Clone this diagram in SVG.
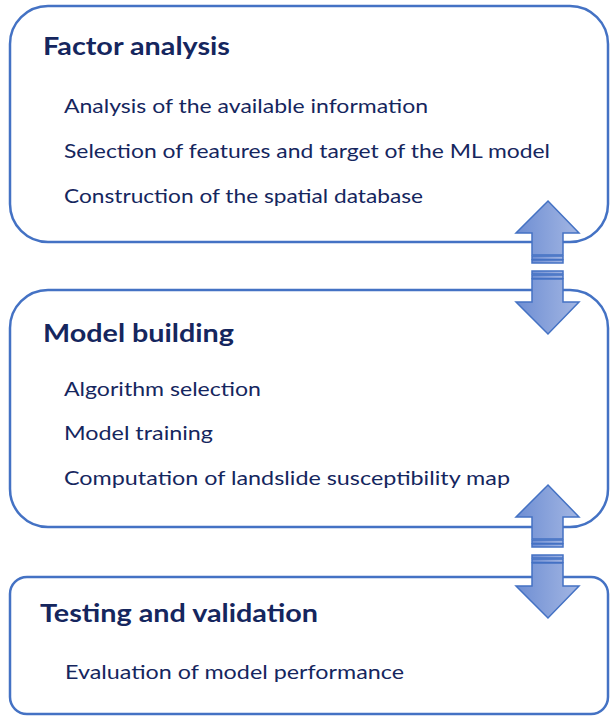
<svg xmlns="http://www.w3.org/2000/svg" width="610" height="716" viewBox="0 0 610 716">
<style>
.box{fill:#ffffff;stroke:#4472c4;stroke-width:2.5}
.h{font-family:Lato,"Liberation Sans",sans-serif;font-weight:bold;font-size:25px;fill:#15265e}
.t{font-family:Lato,"Liberation Sans",sans-serif;font-size:19px;fill:#15265e}
.arr{fill:url(#g);stroke:#4472c4;stroke-width:1.5;stroke-linejoin:miter}
</style>
<defs>
<linearGradient id="g" x1="0" y1="0" x2="1" y2="0">
<stop offset="0" stop-color="#6e8ed3"/>
<stop offset="1" stop-color="#a3b6e3"/>
</linearGradient>
<g id="dbl">
<path class="arr" d="M548,201 L579,233 L563,233 L563,255 L532,255 L532,233 L516,233 Z"/>
<rect class="arr" x="532" y="256" width="31" height="3.5"/>
<rect class="arr" x="532" y="260" width="31" height="3"/>
<rect class="arr" x="532" y="271" width="31" height="3"/>
<rect class="arr" x="532" y="275" width="31" height="3.5"/>
<path class="arr" d="M532,279 L563,279 L563,302 L579,302 L548,334 L516,302 L532,302 Z"/>
</g>
</defs>
<g id="node-factor">
<rect class="box" x="10" y="6" width="598" height="236" rx="38" ry="38"/>
<text class="h" x="43" y="55" textLength="187" lengthAdjust="spacingAndGlyphs">Factor analysis</text>
<text class="t" x="64" y="113" textLength="364" lengthAdjust="spacingAndGlyphs">Analysis of the available information</text>
<text class="t" x="64" y="158" textLength="486" lengthAdjust="spacingAndGlyphs">Selection of features and target of the ML model</text>
<text class="t" x="64" y="203" textLength="359" lengthAdjust="spacingAndGlyphs">Construction of the spatial database</text>
</g>
<g id="node-model">
<rect class="box" x="10" y="290" width="598" height="237" rx="38" ry="38"/>
<text class="h" x="43" y="342" textLength="191" lengthAdjust="spacingAndGlyphs">Model building</text>
<text class="t" x="64" y="396" textLength="197" lengthAdjust="spacingAndGlyphs">Algorithm selection</text>
<text class="t" x="64" y="440" textLength="149" lengthAdjust="spacingAndGlyphs">Model training</text>
<text class="t" x="64" y="485" textLength="446" lengthAdjust="spacingAndGlyphs">Computation of landslide susceptibility map</text>
</g>
<g id="node-testing">
<rect class="box" x="10" y="577" width="598" height="137" rx="17" ry="17"/>
<text class="h" x="40" y="622" textLength="278" lengthAdjust="spacingAndGlyphs">Testing and validation</text>
<text class="t" x="65" y="679" textLength="339" lengthAdjust="spacingAndGlyphs">Evaluation of model performance</text>
</g>
<g id="connectors">
<use href="#dbl"/>
<use href="#dbl" transform="translate(0,284)"/>
</g>
</svg>
